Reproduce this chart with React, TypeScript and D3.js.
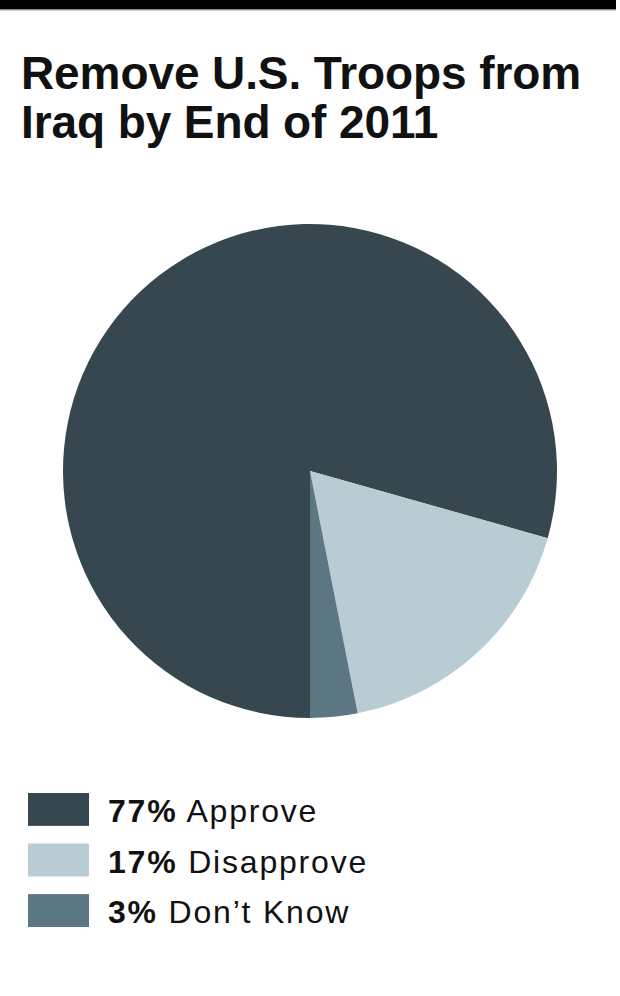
import React from 'react';
import * as d3 from 'd3';

const categories = ['Approve', 'Disapprove', 'Don\u2019t Know'];
const values = [77, 17, 3];
const colors = ['#37474f', '#b9cbd3', '#5b7782'];
const titleLines = ['Remove U.S. Troops from', 'Iraq by End of 2011'];

const width = 620;
const height = 996;

export default function App() {
  const cx = 310;
  const cy = 471;
  const radius = 247;

  const pie = d3.pie<number>()
    .sort(null)
    .startAngle(Math.PI)
    .endAngle(3 * Math.PI);
  const arcs = pie(values);
  const arc = d3.arc<d3.PieArcDatum<number>>().innerRadius(0).outerRadius(radius);

  // legend rows: 33px swatches, ~51px apart
  const legendY = d3.scaleBand<number>()
    .domain(d3.range(categories.length))
    .range([793, 927])
    .paddingInner(0.35)
    .paddingOuter(0);

  return (
    <svg
      width={width}
      height={height}
      style={{ position: 'absolute', left: 0, top: 0, background: '#fff' }}
      fontFamily="'Liberation Sans', Arial, sans-serif"
    >
      <rect x={0} y={0} width={616} height={9.5} fill="#000" />
      <rect x={0} y={9.5} width={616} height={1} fill="#9a9a9a" />

      {titleLines.map((line, i) => (
        <text
          key={line}
          x={21}
          y={89 + i * 49}
          fontSize={46}
          fontWeight="bold"
          letterSpacing={-0.1}
          fill="#111"
        >
          {line}
        </text>
      ))}

      <g transform={`translate(${cx},${cy})`}>
        {arcs.map((a, i) => (
          <path key={categories[i]} d={arc(a) || ''} fill={colors[i]} />
        ))}
      </g>

      {categories.map((c, i) => {
        const y = legendY(i) || 0;
        const h = legendY.bandwidth();
        return (
          <g key={c}>
            <rect x={28} y={y} width={61} height={h} fill={colors[i]} />
            <text x={108} y={y + h / 2 + 12.5} fontSize={32} letterSpacing={1.8} fill="#111">
              <tspan fontWeight="bold">{values[i]}%</tspan>
              <tspan> {c}</tspan>
            </text>
          </g>
        );
      })}
    </svg>
  );
}
